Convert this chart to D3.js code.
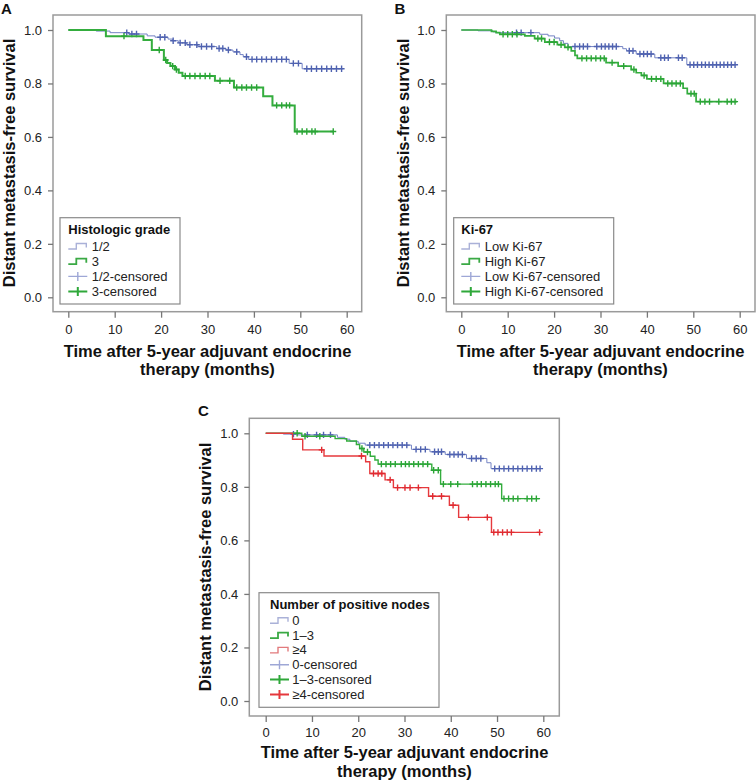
<!DOCTYPE html>
<html><head><meta charset="utf-8">
<script src="https://cdn.jsdelivr.net/npm/d3@7"></script>
<style>
body{margin:0;background:#fff;}
svg{display:block;font-family:"Liberation Sans",Arial,sans-serif;}
</style></head>
<body><svg id="c" width="756" height="783"></svg>
<script>
// ---------------- DATA ----------------
const xTicks = [0,10,20,30,40,50,60];
const yTicks = [0.0,0.2,0.4,0.6,0.8,1.0];
const xTitleLines = ["Time after 5-year adjuvant endocrine","therapy (months)"];
const yTitle = "Distant metastasis-free survival";

// Panel A – histologic grade. steps: [time, survival after drop]
const gradeLowSteps = [[6,0.996],[9,0.99],[13,0.985],[17,0.978],[18.7,0.973],[21.5,0.966],[22.5,0.96],[23.7,0.952],[25.5,0.945],[27.9,0.938],[32,0.931],[34,0.925],[35.5,0.918],[37,0.908],[37.7,0.9],[38.8,0.89],[47.6,0.875],[50.4,0.855]];
const gradeLowEnd = 59.2;
const gradeLowCens = [12.6,13.7,14.7,19.8,20.8,22.6,24.1,25.2,26.2,27.7,28.7,29.8,30.9,32.5,33.3,34.5,36.3,38.4,39.6,40.6,41.7,42.7,43.8,44.9,46,47,48.5,49.6,51.4,52.4,53.5,54.6,55.7,56.7,57.8,58.9];
const gradeHighSteps = [[8.1,0.977],[16.2,0.963],[18,0.925],[20.6,0.888],[21.3,0.877],[22,0.865],[23,0.852],[23.8,0.84],[24.6,0.828],[31.6,0.81],[35.7,0.785],[42,0.752],[44,0.718],[48.8,0.62]];
const gradeHighEnd = 57.1;
const gradeHighCens = [12,19.6,21,22.5,23.3,25.2,26.2,27.3,28.4,29.5,30.5,32.7,34.8,36.3,37.4,38.4,39.5,40.6,44.9,46,47,47.7,49.3,50.4,51.4,52.5,53.2,57.1];

// Panel B – Ki-67
const kiLowSteps = [[3.6,0.997],[6.8,0.993],[7.5,0.99],[16.9,0.984],[18.7,0.978],[20.1,0.97],[21.2,0.96],[22,0.95],[23,0.938],[34.8,0.93],[35.6,0.922],[37.7,0.91],[41.7,0.896],[48.6,0.87]];
const kiLowEnd = 59.3;
const kiLowCens = [11.9,12.9,15,24.5,25.5,26.3,27.2,29.2,30.2,31,31.8,32.6,33.4,36.2,37,38.5,39.3,40.1,40.9,43,43.8,44.6,46.8,47.6,49.3,50.1,50.9,51.8,52.6,53.4,54.2,55,55.8,56.6,57.4,58.2,59];
const kiHighSteps = [[6.5,0.995],[7.5,0.99],[8.3,0.984],[13.7,0.978],[15.8,0.968],[18,0.955],[20.7,0.945],[22.3,0.935],[23.7,0.922],[24.5,0.905],[25,0.894],[31.2,0.878],[33.8,0.865],[36.6,0.852],[37.7,0.84],[38.8,0.83],[40,0.817],[43.6,0.8],[47.8,0.782],[48.7,0.762],[50.6,0.732]];
const kiHighEnd = 59.4;
const kiHighCens = [9,10,11,12,16.5,17.3,19,20,21.5,23,26,27,28,29,30,30.8,32.5,35,37.2,39.4,41,42,43,44.5,45.4,46.3,47.2,49.5,50.2,51.5,52.5,53.5,55.5,57.3,58.2,59];

// Panel C – number of positive nodes
const node0Steps = [[3.8,0.997],[7,0.994],[15.5,0.985],[17.1,0.978],[18.2,0.97],[20,0.963],[21.5,0.956],[31.5,0.94],[35.5,0.931],[38.8,0.921],[43.4,0.906],[47.8,0.89],[48.7,0.868]];
const node0End = 59.3;
const node0Cens = [6,9,11,12.5,14,22.5,23.5,24.5,25.5,26.5,27.5,28.5,29.5,30.5,32.5,33.5,34.5,36.5,37.3,38,39.8,40.7,41.6,42.5,44.5,45.5,46.5,49.5,50.5,51.5,52.5,53.5,54.5,55.5,56.5,57.5,58.5,59.3];
const node13Steps = [[7.8,0.989],[15,0.98],[17.5,0.971],[19.6,0.958],[20.3,0.943],[21.2,0.93],[22.6,0.914],[23.6,0.9],[24.3,0.885],[35.9,0.862],[37.8,0.81],[51,0.756]];
const node13End = 59.3;
const node13Cens = [6.8,8.5,11.7,20.8,22,25,26,27,28,29.3,30.2,31,32,33,34,35,36.3,37.3,38.4,40,41.5,44.7,45.7,46.6,47.6,48.6,49.6,50.3,51.5,52.5,53.5,54.5,56.5,57.5,58.5];
const node4Steps = [[5.8,0.978],[8,0.938],[12.6,0.915],[21.6,0.894],[22.5,0.85],[25.8,0.826],[27.6,0.797],[35.2,0.765],[39.7,0.731],[41.7,0.686],[48.8,0.63]];
const node4End = 59.2;
const node4Cens = [12.1,20.7,23.3,24.3,25.1,26.9,28.5,30.1,31.2,33,36.1,38,40.5,43.8,47.9,49.3,50.2,51.2,52.2,53.1,59.2];

const legendTitles = ["Histologic grade","Ki-67","Number of positive nodes"];
const legendLabelsA = ["1/2","3","1/2-censored","3-censored"];
const legendLabelsB = ["Low Ki-67","High Ki-67","Low Ki-67-censored","High Ki-67-censored"];
const legendLabelsC = ["0","1\u20133","\u22654","0-censored","1\u20133-censored","\u22654-censored"];

// ---------------- STYLE ----------------
const BLUE = {line:"#7483c4", cens:"#4f62b0", lw:1, leg:"#aab1d8", legC:"#9ea7d6"};
const GREEN = {line:"#34ad3e", cens:"#2aa536", lw:2, leg:"#3aa944", legC:"#2fa83a"};
const RED = {line:"#e6393d", cens:"#e02a30", lw:1.4, leg:"#e27a7c", legC:"#e5383c"};

const panels = [
  {label:"A", lx:1, ly:13.5, box:[53,15,361.7,311.7], xr:[68.3,346.7], yr:[297.3,30], xLabBase:334, ytx:15, yty:163, xtx:207.5, xty:[356.5,375],
   series:[{steps:gradeLowSteps,end:gradeLowEnd,cens:gradeLowCens,c:BLUE},{steps:gradeHighSteps,end:gradeHighEnd,cens:gradeHighCens,c:GREEN}],
   leg:{x:60,y:217.7,w:120,h:86.3,title:legendTitles[0],labels:legendLabelsA,cols:[BLUE,GREEN],ix:68.3,tx:91.7,ty:234,y0:250.5,dy:15.2}},
  {label:"B", lx:394.5, ly:13.5, box:[446.3,15,755,311.7], xr:[461.3,739.7], yr:[297.3,30], xLabBase:334, ytx:409, yty:163, xtx:600.5, xty:[356.5,375],
   series:[{steps:kiLowSteps,end:kiLowEnd,cens:kiLowCens,c:BLUE},{steps:kiHighSteps,end:kiHighEnd,cens:kiHighCens,c:Object.assign({},GREEN,{lw:1.7})}],
   leg:{x:453.7,y:217.7,w:160,h:86.3,title:legendTitles[1],labels:legendLabelsB,cols:[BLUE,GREEN],ix:461.3,tx:484.7,ty:234,y0:250.5,dy:15.2}},
  {label:"C", lx:198, ly:416, box:[249.3,418.3,559.3,716], xr:[265.7,543.3], yr:[701,433.3], xLabBase:737, ytx:211, yty:567, xtx:404.5, xty:[758.3,776.7],
   series:[{steps:node0Steps,end:node0End,cens:node0Cens,c:BLUE},{steps:node13Steps,end:node13End,cens:node13Cens,c:Object.assign({},GREEN,{lw:1.4})},{steps:node4Steps,end:node4End,cens:node4Cens,c:RED}],
   leg:{x:259,y:592.7,w:180,h:114.6,title:legendTitles[2],labels:legendLabelsC,cols:[BLUE,GREEN,RED],ix:270,tx:292.3,ty:609,y0:624.7,dy:14.85}}
];

const svg = d3.select("#c");

function survAt(steps,t){ let s=1; for(const [tt,v] of steps){ if(tt<=t) s=v; } return s; }

panels.forEach(p=>{
  const g = svg.append("g");
  const x = d3.scaleLinear().domain([0,60]).range(p.xr);
  const y = d3.scaleLinear().domain([0,1]).range(p.yr);
  const [bx0,by0,bx1,by1] = p.box;

  g.append("rect").attr("x",bx0).attr("y",by0).attr("width",bx1-bx0).attr("height",by1-by0)
    .attr("fill","#fff").attr("stroke","#9a9a9a").attr("stroke-width",1.5);

  // axes
  const ya = g.append("g").attr("transform",`translate(${bx0},0)`)
    .call(d3.axisLeft(y).tickValues(yTicks).tickFormat(d3.format(".1f")).tickSize(5).tickPadding(6));
  const xa = g.append("g").attr("transform",`translate(0,${by1})`)
    .call(d3.axisBottom(x).tickValues(xTicks).tickSize(6).tickPadding(0));
  [ya,xa].forEach(a=>{ a.select(".domain").remove(); a.selectAll("line").attr("stroke","#777").attr("stroke-width",1.3);
    a.selectAll("text").attr("font-size",13).attr("fill","#222").attr("font-family","Liberation Sans, Arial, sans-serif"); });
  xa.selectAll("text").attr("dy",null).attr("y",p.xLabBase-by1);

  // curves
  const line = d3.line().x(d=>x(d[0])).y(d=>y(d[1])).curve(d3.curveStepAfter);
  p.series.forEach(s=>{
    const pts=[[0,1]].concat(s.steps); pts.push([s.end, s.steps[s.steps.length-1][1]]);
    g.append("path").attr("d",line(pts)).attr("fill","none").attr("stroke",s.c.line).attr("stroke-width",s.c.lw);
    const cg = g.append("g");
    s.cens.forEach(t=>{
      const cx=x(t), cy=y(survAt(s.steps,t));
      cg.append("path").attr("d",`M${cx-3},${cy}H${cx+3}M${cx},${cy-3.2}V${cy+3.2}`)
        .attr("stroke",s.c.cens).attr("stroke-width",1.4).attr("fill","none");
    });
  });

  // panel label
  svg.append("text").attr("x",p.lx).attr("y",p.ly).text(p.label).attr("font-size",15).attr("font-weight","bold").attr("fill","#111");
  // y title
  svg.append("text").attr("transform",`translate(${p.ytx},${p.yty}) rotate(-90)`).attr("text-anchor","middle")
    .attr("font-size",16.5).attr("font-weight","bold").attr("fill","#111").text(yTitle);
  // x title
  xTitleLines.forEach((t,i)=>svg.append("text").attr("x",p.xtx).attr("y",p.xty[i]).attr("text-anchor","middle")
    .attr("font-size",16.5).attr("font-weight","bold").attr("fill","#111").text(t));

  // legend
  const L=p.leg, lg=svg.append("g");
  lg.append("rect").attr("x",L.x).attr("y",L.y).attr("width",L.w).attr("height",L.h).attr("fill","#fff").attr("stroke","#8a8a8a").attr("stroke-width",1.2);
  lg.append("text").attr("x",L.ix).attr("y",L.ty).text(L.title).attr("font-size",13).attr("font-weight","bold").attr("fill","#111");
  const n=L.cols.length;
  L.labels.forEach((lab,i)=>{
    const by=L.y0+i*L.dy, cy=by-4.5, x0=L.ix, x1=L.ix+19;
    if(i<n){
      const c=L.cols[i];
      lg.append("path").attr("d",`M${x0},${cy+3}H${x0+8}V${cy-2.5}H${x1-1}V${cy+1.5}`).attr("fill","none")
        .attr("stroke",c.leg).attr("stroke-width",c===GREEN?1.8:1.4);
    } else {
      const c=L.cols[i-n];
      lg.append("path").attr("d",`M${x0},${cy}H${x1}M${x0+9.5},${cy-4.5}V${cy+4.5}`).attr("fill","none")
        .attr("stroke",c.legC).attr("stroke-width",c===BLUE?1.4:2);
    }
    lg.append("text").attr("x",L.tx).attr("y",by).text(lab).attr("font-size",13).attr("fill","#222");
  });
});
</script></body></html>
